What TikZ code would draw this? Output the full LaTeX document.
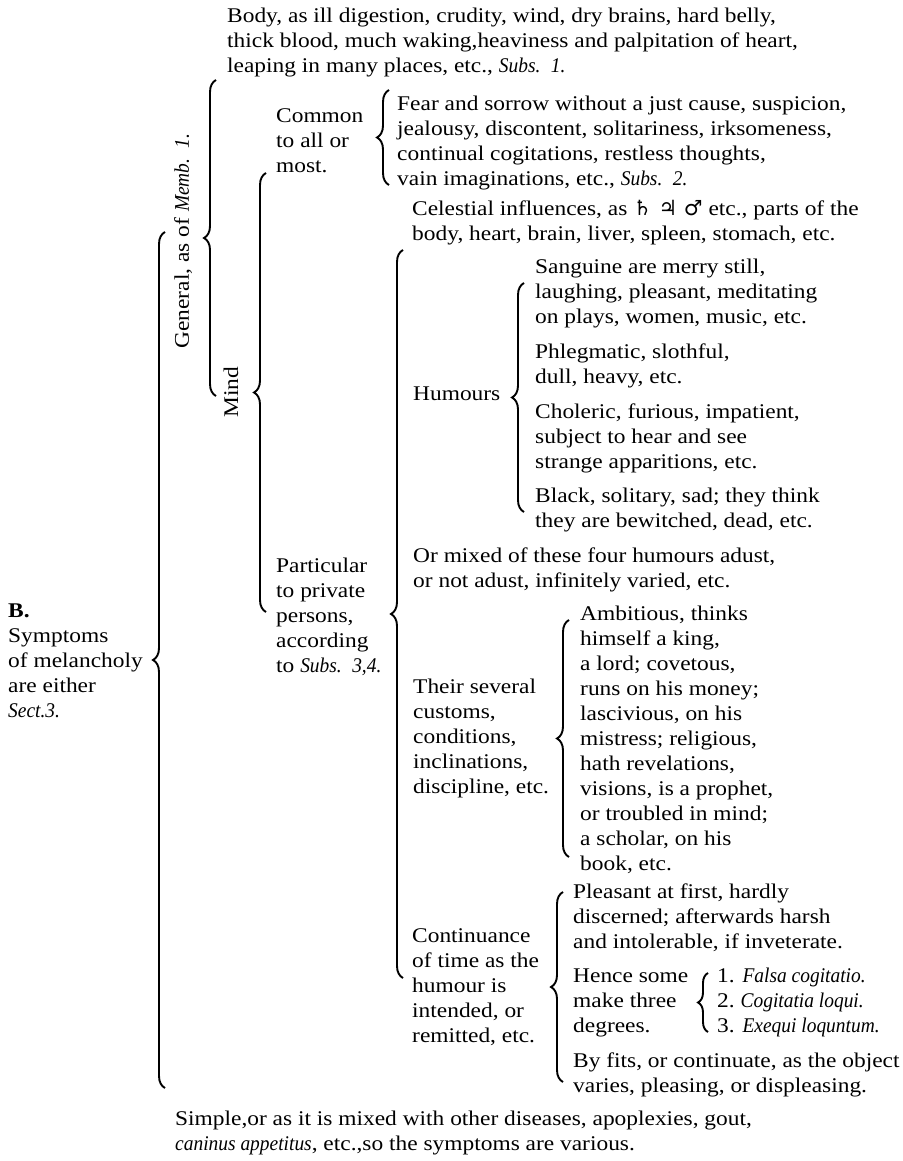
\documentclass[tikz,border=0pt]{standalone}
\usepackage{fontspec}
\setmainfont{Liberation Serif}[
  UprightFeatures={FakeStretch=1.12},
  BoldFeatures={FakeStretch=1.12},
  ItalicFeatures={FakeStretch=0.93}]
\newfontfamily\planetfont{DejaVu Sans}
\usetikzlibrary{decorations.pathreplacing}

\begin{document}
\begin{tikzpicture}[x=1pt, y=-1pt,
    every node/.style={font=\fontsize{20.9}{25}\selectfont},
    entry/.style={anchor=north west, inner sep=0pt, align=left},
    heading/.style={inner sep=0pt, rotate=90},
    bracket/.style={decorate, decoration={brace, amplitude=12pt}, line width=1.9pt}]
   \useasboundingbox (0,0) rectangle (902,1161);
   % first column
   \node[entry] (symptoms) at (8,599.5) {\strut\textbf{B.}\\ Symptoms\\ of melancholy\\ are either\\ \textit{Sect.3.}};
   \node[heading] (general) at (183,241) {General, as of \textit{Memb.\enspace 1.}};
   \node[heading] (mind) at (231,392) {Mind};
   \node[entry] (simple) at (175,1107.5) {\strut Simple,or as it is mixed with other diseases, apoplexies, gout,\\ \textit{caninus appetitus}, etc.,so the symptoms are various.};
   % body and mind
   \node[entry] (body) at (227,4.5) {\strut Body, as ill digestion, crudity, wind, dry brains, hard belly,\\ thick blood, much waking,heaviness and palpitation of heart,\\ leaping in many places, etc., \textit{Subs.\enspace 1.}};
   \node[entry] (common) at (276,104.5) {\strut Common\\ to all or\\ most.};
   \node[entry] (fear) at (397,92.5) {\strut Fear and sorrow without a just cause, suspicion,\\ jealousy, discontent, solitariness, irksomeness,\\ continual cogitations, restless thoughts,\\ vain imaginations, etc., \textit{Subs.\enspace 2.}};
   \node[entry] (particular) at (276,554.5) {\strut Particular\\ to private\\ persons,\\ according\\ to \textit{Subs.\enspace 3,4.}};
   % particular to private persons
   \node[entry] (celestial) at (412,197.5) {\strut Celestial influences, as {\planetfont ♄ ♃ ♂} etc., parts of the\\ body, heart, brain, liver, spleen, stomach, etc.};
   \node[entry] (humours) at (413,382.5) {\strut Humours};
   \node[entry] (sanguine) at (535,255.5) {\strut Sanguine are merry still,\\ laughing, pleasant, meditating\\ on plays, women, music, etc.};
   \node[entry] (phlegmatic) at (535,340.5) {\strut Phlegmatic, slothful,\\ dull, heavy, etc.};
   \node[entry] (choleric) at (535,400.5) {\strut Choleric, furious, impatient,\\ subject to hear and see\\ strange apparitions, etc.};
   \node[entry] (black) at (535,484.5) {\strut Black, solitary, sad; they think\\ they are bewitched, dead, etc.};
   \node[entry] (mixed) at (413,544.5) {\strut Or mixed of these four humours adust,\\ or not adust, infinitely varied, etc.};
   \node[entry] (customs) at (413,675.5) {\strut Their several\\ customs,\\ conditions,\\ inclinations,\\ discipline, etc.};
   \node[entry] (ambitious) at (580,602.5) {\strut Ambitious, thinks\\ himself a king,\\ a lord; covetous,\\ runs on his money;\\ lascivious, on his\\ mistress; religious,\\ hath revelations,\\ visions, is a prophet,\\ or troubled in mind;\\ a scholar, on his\\ book, etc.};
   \node[entry] (continuance) at (412,924.5) {\strut Continuance\\ of time as the\\ humour is\\ intended, or\\ remitted, etc.};
   \node[entry] (pleasant) at (573,880.5) {\strut Pleasant at first, hardly\\ discerned; afterwards harsh\\ and intolerable, if inveterate.};
   \node[entry] (hence) at (573,964.5) {\strut Hence some\\ make three\\ degrees.};
   \node[entry] (degrees) at (717,964.5) {\strut 1. \textit{Falsa cogitatio.}\\ 2.\ \textit{Cogitatia loqui.}\\ 3. \textit{Exequi loquntum.}};
   \node[entry] (fits) at (573,1049.5) {\strut By fits, or continuate, as the object\\ varies, pleasing, or displeasing.};
   % brace ends
   \coordinate (b-top) at (165,232);   \coordinate (b-bot) at (165,1088);
   \coordinate (g-top) at (216,80);    \coordinate (g-bot) at (216,396);
   \coordinate (m-top) at (266,173);   \coordinate (m-bot) at (266,612);
   \coordinate (f-top) at (389,90);    \coordinate (f-bot) at (389,185);
   \coordinate (p-top) at (403,250);   \coordinate (p-bot) at (403,978);
   \coordinate (h-top) at (524,283);   \coordinate (h-bot) at (524,512);
   \coordinate (c-top) at (569,620);   \coordinate (c-bot) at (569,857);
   \coordinate (t-top) at (563,892);   \coordinate (t-bot) at (563,1082);
   \coordinate (d-top) at (708,973);   \coordinate (d-bot) at (708,1032);
   \draw[bracket] (b-bot) to (b-top);
   \draw[bracket] (g-bot) to (g-top);
   \draw[bracket] (m-bot) to (m-top);
   \draw[bracket] (f-bot) to (f-top);
   \draw[bracket] (p-bot) to (p-top);
   \draw[bracket] (h-bot) to (h-top);
   \draw[bracket] (c-bot) to (c-top);
   \draw[bracket] (t-bot) to (t-top);
   \draw[bracket, decoration={amplitude=10pt}] (d-bot) to (d-top);
\end{tikzpicture}
\end{document}
